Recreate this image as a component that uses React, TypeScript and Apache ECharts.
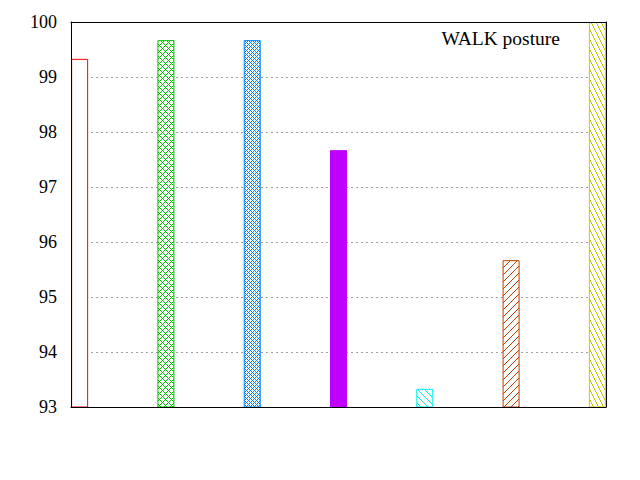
import React, { useEffect, useRef } from "react";
import * as echarts from "echarts";

const positions = [0, 1, 2, 3, 4, 5, 6];
const values = [99.33, 99.67, 99.67, 97.67, 93.33, 95.67, 100];
const colors = ["#ff0000", "#00c000", "#0080ff", "#c000ff", "#00eeee", "#c04000", "#c8c800"];
const patterns = ["empty", "cross", "dense", "solid", "back", "fwd", "steep"];
const yTicks = [93, 94, 95, 96, 97, 98, 99, 100];
const titleText = "WALK posture";

function makePattern(kind: string, color: string): any {
  if (kind === "solid") return color;
  if (kind === "empty") return "#ffffff";
  let w = 6, h = 6;
  let test: (x: number, y: number) => boolean = () => false;
  if (kind === "cross") {
    w = 6; h = 6;
    test = (x, y) => (x + y) % 6 === 0 || (((x - y) % 6) + 6) % 6 === 0;
  } else if (kind === "dense") {
    w = 4; h = 4;
    test = (x, y) => (x + y) % 4 === 0 || (((x - y) % 4) + 4) % 4 === 0;
  } else if (kind === "back") {
    w = 7; h = 7;
    test = (x, y) => (((y - x) % 7) + 7) % 7 === 0;
  } else if (kind === "fwd") {
    w = 7; h = 7;
    test = (x, y) => (x + y) % 7 === 0;
  } else if (kind === "steep") {
    w = 5; h = 10;
    test = (x, y) => {
      const m = (((y - 2 * x) % 10) + 10) % 10;
      return m === 0 || m === 1;
    };
  }
  const c = document.createElement("canvas");
  c.width = w;
  c.height = h;
  const ctx = c.getContext("2d")!;
  ctx.fillStyle = "#ffffff";
  ctx.fillRect(0, 0, w, h);
  ctx.fillStyle = color;
  for (let y = 0; y < h; y++) {
    for (let x = 0; x < w; x++) {
      if (test(x, y)) ctx.fillRect(x, y, 1, 1);
    }
  }
  return { image: c, repeat: "repeat" };
}

export default function App() {
  const ref = useRef<HTMLDivElement>(null);
  useEffect(() => {
    if (!ref.current) return;
    const chart = echarts.init(ref.current, undefined, { renderer: "svg" });
    const font = '"Liberation Serif", "Times New Roman", serif';
    const data = positions.map((p, i) => ({
      value: [p, values[i]],
      itemStyle: {
        color: makePattern(patterns[i], colors[i]),
        borderColor: colors[i],
        borderWidth: 1,
      },
    }));
    const yMin = yTicks[0];
    const yMax = yTicks[yTicks.length - 1];
    chart.setOption({
      animation: false,
      backgroundColor: "#ffffff",
      grid: { left: 71, right: 34, top: 22, bottom: 73, show: false },
      xAxis: [
        {
          type: "value",
          min: -0.1,
          max: 6.1,
          position: "bottom",
          z: 5,
          axisLine: { show: true, onZero: false, lineStyle: { color: "#000", width: 1 } },
          axisTick: { show: false },
          axisLabel: { show: false },
          splitLine: { show: false },
        },
        {
          type: "value",
          min: -0.1,
          max: 6.1,
          position: "top",
          z: 5,
          axisLine: { show: true, onZero: false, lineStyle: { color: "#000", width: 1 } },
          axisTick: { show: false },
          axisLabel: { show: false },
          splitLine: { show: false },
        },
      ],
      yAxis: [
        {
          type: "value",
          min: yMin,
          max: yMax,
          interval: 1,
          position: "left",
          z: 5,
          axisLine: { show: true, onZero: false, lineStyle: { color: "#000", width: 1 } },
          axisTick: { show: false },
          axisLabel: { show: true, margin: 14, color: "#000", fontSize: 18, fontFamily: font },
          splitLine: { show: false },
        },
        {
          type: "value",
          min: yMin,
          max: yMax,
          interval: 1,
          position: "right",
          z: 5,
          axisLine: { show: true, onZero: false, lineStyle: { color: "#000", width: 1 } },
          axisTick: { show: false },
          axisLabel: { show: false },
          splitLine: { show: false },
        },
        {
          type: "value",
          min: yMin,
          max: yMax,
          interval: 1,
          position: "left",
          z: 0,
          axisLine: { show: false },
          axisTick: { show: false },
          axisLabel: { show: false },
          splitLine: { show: true, lineStyle: { color: "#a0a0a0", width: 1, type: [2, 3] } },
        },
      ],
      series: [
        {
          type: "bar",
          xAxisIndex: 0,
          yAxisIndex: 0,
          barWidth: 17,
          clip: true,
          data,
        },
      ],
      graphic: [
        {
          type: "text",
          right: 80,
          top: 28,
          z: 10,
          style: { text: titleText, font: `19.5px ${font}`, fill: "#000" },
        },
      ],
    });
    return () => chart.dispose();
  }, []);
  return <div ref={ref} style={{ position: "fixed", left: 0, top: 0, width: 640, height: 480 }} />;
}
